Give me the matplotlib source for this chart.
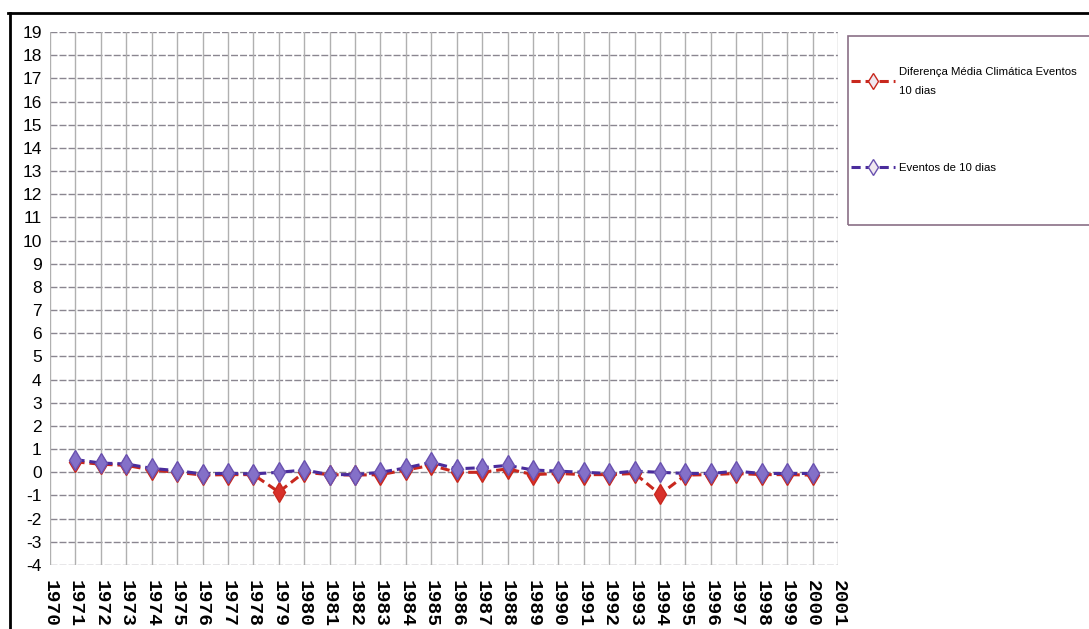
import matplotlib.pyplot as plt
from matplotlib.lines import Line2D
from matplotlib.patches import Rectangle

# yearly anomalies (1971-2000)
anos = list(range(1971, 2001))
diferenca = [0.45, 0.35, 0.30, 0.10, 0.00, -0.12, -0.10, -0.10, -0.85, 0.00,
             -0.10, -0.12, -0.10, 0.10, 0.30, 0.00, 0.00, 0.15, -0.10, -0.05,
             -0.10, -0.10, -0.05, -0.95, -0.12, -0.10, -0.05, -0.10, -0.10, -0.12]
eventos = [0.55, 0.40, 0.36, 0.17, 0.07, -0.07, -0.04, -0.07, 0.00, 0.10,
           -0.10, -0.10, 0.00, 0.19, 0.43, 0.15, 0.20, 0.30, 0.10, 0.05,
           0.00, -0.05, 0.05, 0.00, -0.05, -0.05, 0.05, -0.05, -0.05, -0.05]
xticks = list(range(1970, 2002))
yticks = list(range(-4, 20))

W, H = 1089, 629
fig = plt.figure(figsize=(W / 100, H / 100), dpi=100)
ax = fig.add_axes([50 / W, 1 - 565 / H, 788 / W, 533 / H])

ax.plot(anos, diferenca, color='#c8281e', lw=2.2, dashes=(3, 1.6),
        marker='d', ms=10, mfc='#d8302a', mec='#c8281e', mew=1,
        label='Diferença Média Climática Eventos\n10 dias', zorder=3)
ax.plot(anos, eventos, color='#4a2c9c', lw=2.2, dashes=(3, 1.6),
        marker='d', ms=10, mfc='#8470c8', mec='#6a52b0', mew=1,
        label='Eventos de 10 dias', zorder=4)

ax.set_xlim(1970, 2001)
ax.set_ylim(-4, 19)
ax.set_xticks(xticks)
ax.set_xticklabels([str(a) for a in xticks], rotation=270,
                   family=['Liberation Mono', 'DejaVu Sans Mono'],
                   fontweight='bold', fontsize=14)
ax.set_yticks(yticks)
ax.set_yticklabels([str(v) for v in yticks], family='Liberation Sans', fontsize=12.5)
ax.tick_params(axis='x', length=0, pad=11)
ax.tick_params(axis='y', length=0, pad=6)

# grid: dashed horizontals, solid verticals
for v in yticks:
    ax.axhline(v, color='#8a8690', lw=1, dashes=(5, 1.5), zorder=1)
for a in xticks:
    ax.axvline(a, color='#b0b0b0', lw=1, zorder=1)
for s in ax.spines.values():
    s.set_visible(False)

# legend box runs past the right edge
fig.add_artist(Rectangle((848 / W, 1 - 225 / H), 260 / W, 189 / H,
                         transform=fig.transFigure, fill=False,
                         edgecolor='#8a6f86', lw=1.2))
leg = fig.legend(loc='upper left', bbox_to_anchor=(851 / W, 1 - 67 / H),
                 prop={'family': 'Liberation Sans', 'size': 8.2},
                 handlelength=3.9, handletextpad=0.3, borderpad=0,
                 labelspacing=5.9, borderaxespad=0, markerscale=0.8,
                 frameon=False)
for t in leg.get_texts():
    t.set_linespacing(2.1)
for h in leg.legend_handles:
    h.set_markerfacecolor('#f0e8f0')

# outer frame lines along top and left
fig.add_artist(Line2D([8 / W, 1], [1 - 13 / H] * 2, color='black', lw=2))
fig.add_artist(Line2D([10 / W] * 2, [0, 1 - 13 / H], color='black', lw=2))

fig.savefig('out.png', dpi=100)
